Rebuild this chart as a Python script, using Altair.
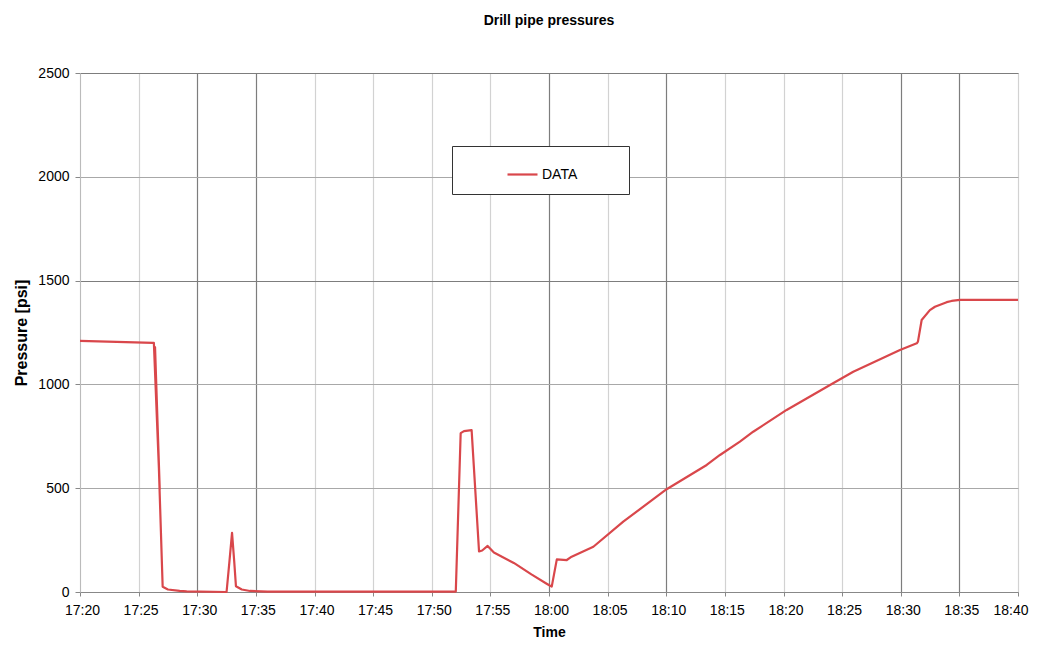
import altair as alt
import pandas as pd

# Time stamps (HH:MM:SS) and drill pipe pressure readings [psi], in drawing order
times = [
    "17:20:00", "17:26:14", "17:26:18", "17:26:48", "17:26:24", "17:27:03",
    "17:27:30", "17:28:30", "17:29:06", "17:32:30", "17:32:45", "17:32:58",
    "17:33:09", "17:33:18", "17:33:48", "17:34:30", "17:36:00", "17:52:03",
    "17:52:28", "17:52:45", "17:53:24", "17:54:02", "17:54:18", "17:54:46",
    "17:55:18", "17:57:00", "17:58:30", "17:59:48", "18:00:06", "18:00:14",
    "18:00:40", "18:01:31", "18:01:56", "18:03:47", "18:06:20", "18:10:02",
    "18:13:27", "18:14:35", "18:16:17", "18:17:25", "18:20:16", "18:23:58",
    "18:25:57", "18:29:56", "18:31:22", "18:31:28", "18:31:47", "18:32:29",
    "18:32:55", "18:33:55", "18:34:20", "18:35:03", "18:40:00",
]
pressure = [
    1210, 1200, 1200, 495, 1180, 25,
    12, 5, 3, 0, 150, 285,
    150, 28, 12, 5, 2, 2,
    765, 775, 780, 195, 200, 222,
    190, 140, 85, 40, 30, 26,
    157, 154, 170, 218, 339, 495,
    612, 660, 724, 772, 877, 997,
    1061, 1166, 1198, 1206, 1310, 1358,
    1374, 1396, 1402, 1407, 1407,
]

x_ticks = ["17:20", "17:25", "17:30", "17:35", "17:40", "17:45", "17:50", "17:55",
           "18:00", "18:05", "18:10", "18:15", "18:20", "18:25", "18:30", "18:35", "18:40"]
y_ticks = [0, 500, 1000, 1500, 2000, 2500]
dark_x = ["17:30", "17:35", "18:00", "18:10", "18:30", "18:35"]
dark_y = [1500, 2500]


def to_min(t):
    parts = [int(p) for p in t.split(":")]
    h, m = parts[0], parts[1]
    s = parts[2] if len(parts) > 2 else 0
    return h * 60 + m + s / 60.0


df = pd.DataFrame({
    "minute": [to_min(t) for t in times],
    "psi": pressure,
    "idx": list(range(len(times))),
    "series": ["DATA"] * len(times),
})

xt = [to_min(t) for t in x_ticks]
dx = [to_min(t) for t in dark_x]
last = xt[-1]

font = "Liberation Sans"
dark = "#7d7d7d"
light = "#d2d2d2"

label_expr = ("floor(datum.value/60) + ':' + (datum.value % 60 < 10 ? '0' : '') + "
              "(datum.value % 60)")

pad = "\u00a0" * 10 + "\u200b"

chart = alt.Chart(df).mark_line(strokeWidth=2.2, strokeJoin="round").encode(
    x=alt.X(
        "minute:Q",
        scale=alt.Scale(domain=[xt[0], xt[-1]], nice=False, zero=False),
        axis=alt.Axis(
            values=xt, labelExpr=label_expr, title="Time",
            titleFont=font, titleFontSize=14, titleFontWeight="bold", titleColor="black",
            titlePadding=8,
            labelFont=font, labelFontSize=14, labelColor="black", labelPadding=7,
            labelFlush=False, labelOverlap=False, labelBound=False,
            labelAlign={"condition": {"test": "datum.value >= %s" % last, "value": "right"},
                        "value": "center"},
            labelOffset={"condition": {"test": "datum.value >= %s" % last, "value": 10},
                         "value": 2},
            tickSize=4, tickColor="#888", domainColor="#888",
            grid=True,
            gridColor={"condition": {"test": "indexof(%s, datum.value) >= 0" % dx, "value": dark},
                       "value": light},
            gridWidth=1.2,
        ),
    ),
    y=alt.Y(
        "psi:Q",
        scale=alt.Scale(domain=[0, 2500], nice=False),
        axis=alt.Axis(
            values=y_ticks, format="d", title="Pressure [psi]",
            titleFont=font, titleFontSize=16, titleFontWeight="bold", titleColor="black",
            titlePadding=8,
            labelFont=font, labelFontSize=14, labelColor="black", labelPadding=6,
            tickSize=5, tickColor="#888", domainColor="#bbb",
            grid=True,
            gridColor={"condition": {"test": "indexof(%s, datum.value) >= 0" % dark_y, "value": dark},
                       "value": "#a8a8a8"},
            gridWidth=1.2,
        ),
    ),
    color=alt.Color(
        "series:N",
        scale=alt.Scale(range=["#d9474b"]),
        legend=alt.Legend(
            title=None, orient="none", legendX=372, legendY=73,
            strokeColor="#333", fillColor="white", padding=12,
            symbolType="stroke", symbolSize=900, symbolStrokeWidth=2.2,
            symbolOffset=42, labelOffset=3,
            labelFont=font, labelFontSize=14, labelColor="black",
            labelExpr="datum.label + '%s'" % pad,
        ),
    ),
    order="idx:Q",
).properties(
    width=938,
    height=519,
    title=alt.TitleParams("Drill pipe pressures", font=font, fontSize=14, fontWeight="bold",
                          color="black", anchor="middle", frame="group", offset=38),
    autosize=alt.AutoSizeParams(type="none"),
    padding={"left": 72, "top": 65, "right": 14, "bottom": 47},
).configure_view(
    stroke="#999", fill="#fcfcfc"
).configure(background="white")

chart.save("out.html", embed_options={"renderer": "svg", "actions": False})
